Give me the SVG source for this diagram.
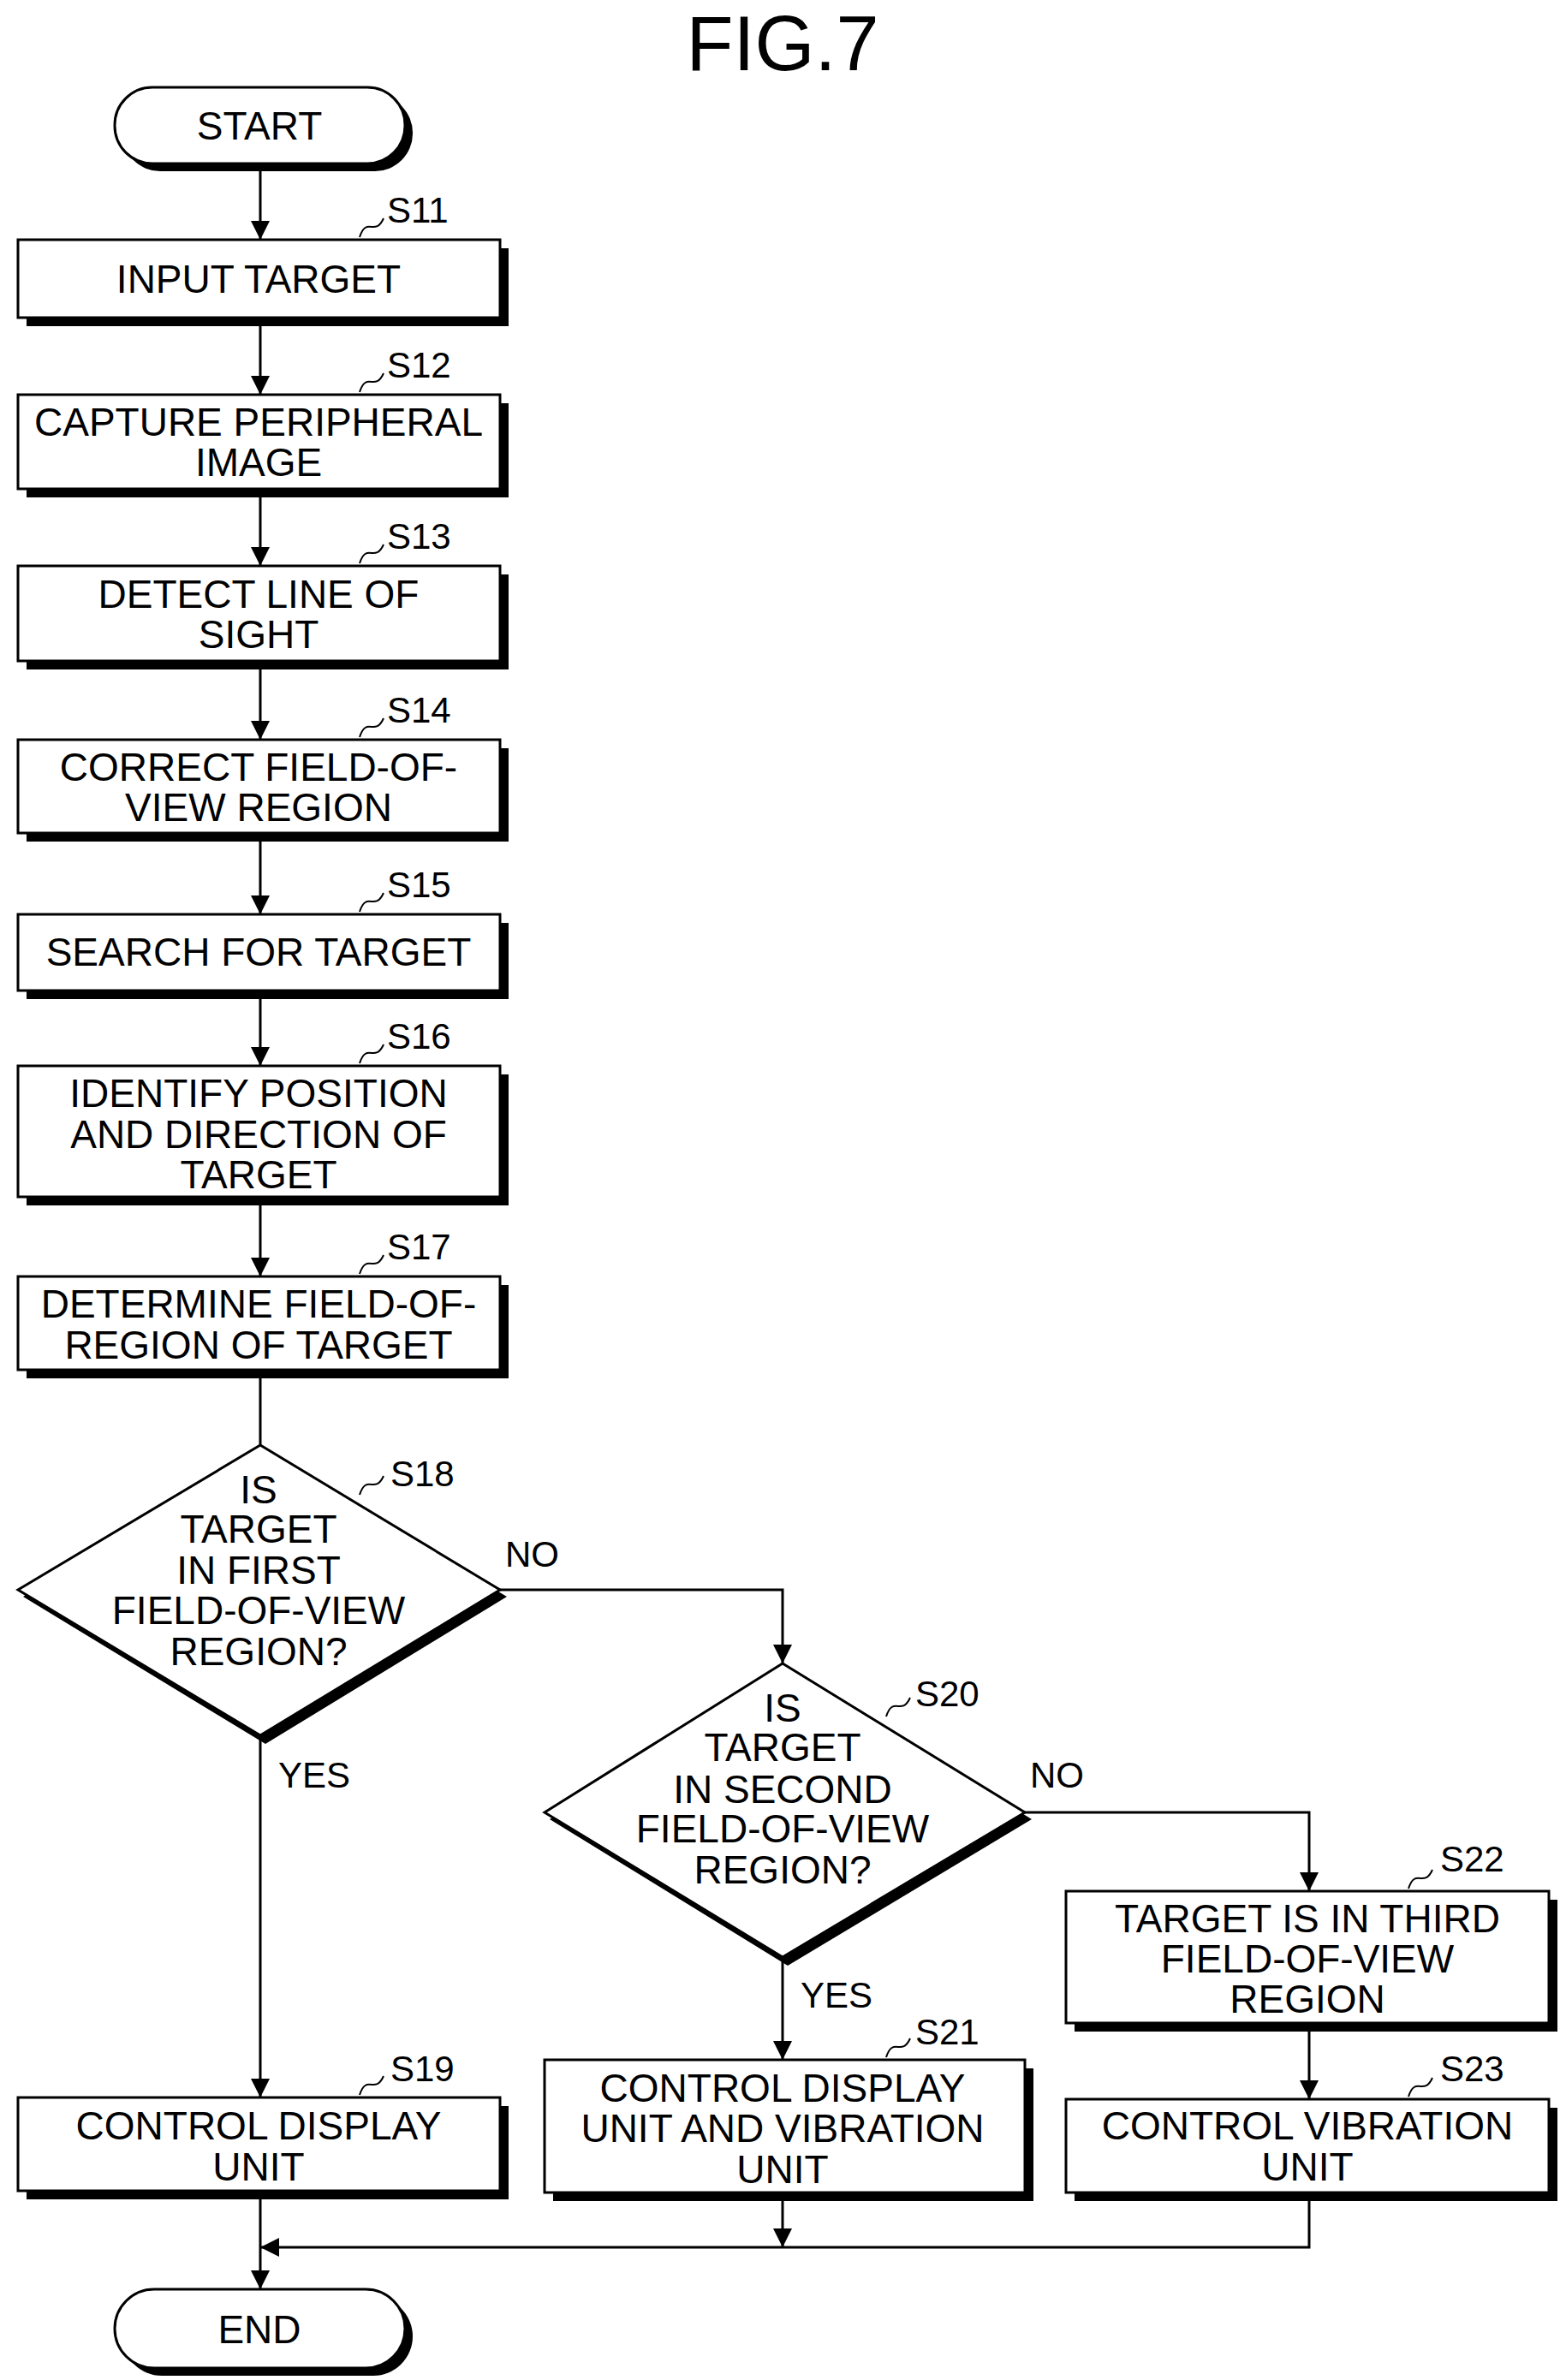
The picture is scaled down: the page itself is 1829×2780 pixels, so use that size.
<svg xmlns="http://www.w3.org/2000/svg" width="1829" height="2780" viewBox="0 0 1829 2780">
<style>
text{font-family:"Liberation Sans",Arial,sans-serif;fill:#000}
.t{font-size:46px;text-anchor:middle}
.l{font-size:42px}
.b{fill:#fff;stroke:#000;stroke-width:3}
.s{fill:#000}
.c{fill:none;stroke:#000;stroke-width:3}
.q{fill:none;stroke:#000;stroke-width:2}
</style>
<defs>
<marker id="ah" viewBox="0 0 10 10" refX="10" refY="5" markerWidth="22" markerHeight="22" orient="auto" markerUnits="userSpaceOnUse"><path d="M0,0L10,5L0,10z"/></marker></defs>
<text x="914" y="82" style="font-size:90px" text-anchor="middle">FIG.7</text>
<g id="connectors">
<path class="c" marker-end="url(#ah)" d="M304,200V280"/>
<path class="c" marker-end="url(#ah)" d="M304,380V461"/>
<path class="c" marker-end="url(#ah)" d="M304,580V661"/>
<path class="c" marker-end="url(#ah)" d="M304,781V864"/>
<path class="c" marker-end="url(#ah)" d="M304,982V1068"/>
<path class="c" marker-end="url(#ah)" d="M304,1166V1245"/>
<path class="c" marker-end="url(#ah)" d="M304,1407V1491"/>
<path class="c" d="M304,1609V1688"/>
<path class="c" marker-end="url(#ah)" d="M584,1857H914V1943"/>
<path class="c" marker-end="url(#ah)" d="M304,2027V2450"/>
<path class="c" marker-end="url(#ah)" d="M1197,2117H1529V2209"/>
<path class="c" marker-end="url(#ah)" d="M914,2286V2406"/>
<path class="c" marker-end="url(#ah)" d="M1529,2372V2452"/>
<path class="c" marker-end="url(#ah)" d="M1529,2570V2625H304"/>
<path class="c" marker-end="url(#ah)" d="M914,2570V2625"/>
<path class="c" marker-end="url(#ah)" d="M304,2568V2674"/>
<text class="l" x="590" y="1830">NO</text>
<text class="l" x="325" y="2088">YES</text>
<text class="l" x="1203" y="2088">NO</text>
<text class="l" x="935" y="2345">YES</text>
</g>
<g id="start"><rect x="143" y="111" width="339" height="89" rx="44" class="s"/><rect x="134" y="102" width="339" height="89" rx="44" class="b"/><text class="t" x="303" y="163">START</text></g>
<g id="s11"><rect x="31" y="290" width="563" height="91" class="s"/><rect x="21" y="280" width="563" height="91" class="b"/><text class="t" x="302" y="342">INPUT TARGET</text><path class="q" d="M420,277c8,-25 18,0 28,-22"/><text class="l" x="452" y="260">S11</text></g>
<g id="s12"><rect x="31" y="471" width="563" height="110" class="s"/><rect x="21" y="461" width="563" height="110" class="b"/><text class="t" x="302" y="509">CAPTURE PERIPHERAL</text><text class="t" x="302" y="556">IMAGE</text><path class="q" d="M420,458c8,-25 18,0 28,-22"/><text class="l" x="452" y="441">S12</text></g>
<g id="s13"><rect x="31" y="671" width="563" height="111" class="s"/><rect x="21" y="661" width="563" height="111" class="b"/><text class="t" x="302" y="710">DETECT LINE OF</text><text class="t" x="302" y="757">SIGHT</text><path class="q" d="M420,658c8,-25 18,0 28,-22"/><text class="l" x="452" y="641">S13</text></g>
<g id="s14"><rect x="31" y="874" width="563" height="109" class="s"/><rect x="21" y="864" width="563" height="109" class="b"/><text class="t" x="302" y="912">CORRECT FIELD-OF-</text><text class="t" x="302" y="959">VIEW REGION</text><path class="q" d="M420,861c8,-25 18,0 28,-22"/><text class="l" x="452" y="844">S14</text></g>
<g id="s15"><rect x="31" y="1078" width="563" height="89" class="s"/><rect x="21" y="1068" width="563" height="89" class="b"/><text class="t" x="302" y="1128">SEARCH FOR TARGET</text><path class="q" d="M420,1065c8,-25 18,0 28,-22"/><text class="l" x="452" y="1048">S15</text></g>
<g id="s16"><rect x="31" y="1255" width="563" height="153" class="s"/><rect x="21" y="1245" width="563" height="153" class="b"/><text class="t" x="302" y="1293">IDENTIFY POSITION</text><text class="t" x="302" y="1341">AND DIRECTION OF</text><text class="t" x="302" y="1388">TARGET</text><path class="q" d="M420,1242c8,-25 18,0 28,-22"/><text class="l" x="452" y="1225">S16</text></g>
<g id="s17"><rect x="31" y="1501" width="563" height="109" class="s"/><rect x="21" y="1491" width="563" height="109" class="b"/><text class="t" x="302" y="1539">DETERMINE FIELD-OF-</text><text class="t" x="302" y="1587">REGION OF TARGET</text><path class="q" d="M420,1488c8,-25 18,0 28,-22"/><text class="l" x="452" y="1471">S17</text></g>
<g id="s18"><polygon class="s" points="27,1865 310,1696 592,1865 310,2037"/><polygon class="b" points="21,1857 304,1688 584,1857 304,2027"/><text class="t" x="302" y="1756">IS</text><text class="t" x="302" y="1802">TARGET</text><text class="t" x="302" y="1850">IN FIRST</text><text class="t" x="302" y="1897">FIELD-OF-VIEW</text><text class="t" x="302" y="1945">REGION?</text><path class="q" d="M420,1746c8,-25 18,0 28,-22"/><text class="l" x="456" y="1736">S18</text></g>
<g id="s20"><polygon class="s" points="642,2125 920,1951 1205,2125 920,2296"/><polygon class="b" points="636,2117 914,1943 1197,2117 914,2286"/><text class="t" x="914" y="2011">IS</text><text class="t" x="914" y="2057">TARGET</text><text class="t" x="914" y="2106">IN SECOND</text><text class="t" x="914" y="2152">FIELD-OF-VIEW</text><text class="t" x="914" y="2200">REGION?</text><path class="q" d="M1035,2005c8,-25 18,0 28,-22"/><text class="l" x="1069" y="1993">S20</text></g>
<g id="s22"><rect x="1255" y="2219" width="564" height="154" class="s"/><rect x="1245" y="2209" width="564" height="154" class="b"/><text class="t" x="1527" y="2257">TARGET IS IN THIRD</text><text class="t" x="1527" y="2304">FIELD-OF-VIEW</text><text class="t" x="1527" y="2351">REGION</text><path class="q" d="M1645,2206c8,-25 18,0 28,-22"/><text class="l" x="1682" y="2186">S22</text></g>
<g id="s19"><rect x="31" y="2460" width="563" height="109" class="s"/><rect x="21" y="2450" width="563" height="109" class="b"/><text class="t" x="302" y="2499">CONTROL DISPLAY</text><text class="t" x="302" y="2547">UNIT</text><path class="q" d="M420,2447c8,-25 18,0 28,-22"/><text class="l" x="456" y="2431">S19</text></g>
<g id="s21"><rect x="646" y="2416" width="561" height="155" class="s"/><rect x="636" y="2406" width="561" height="155" class="b"/><text class="t" x="914" y="2455">CONTROL DISPLAY</text><text class="t" x="914" y="2502">UNIT AND VIBRATION</text><text class="t" x="914" y="2550">UNIT</text><path class="q" d="M1035,2403c8,-25 18,0 28,-22"/><text class="l" x="1069" y="2388">S21</text></g>
<g id="s23"><rect x="1255" y="2462" width="564" height="109" class="s"/><rect x="1245" y="2452" width="564" height="109" class="b"/><text class="t" x="1527" y="2499">CONTROL VIBRATION</text><text class="t" x="1527" y="2547">UNIT</text><path class="q" d="M1645,2449c8,-25 18,0 28,-22"/><text class="l" x="1682" y="2431">S23</text></g>
<g id="end"><rect x="143" y="2683" width="339" height="92" rx="46" class="s"/><rect x="134" y="2674" width="339" height="92" rx="46" class="b"/><text class="t" x="303" y="2737">END</text></g>
</svg>
